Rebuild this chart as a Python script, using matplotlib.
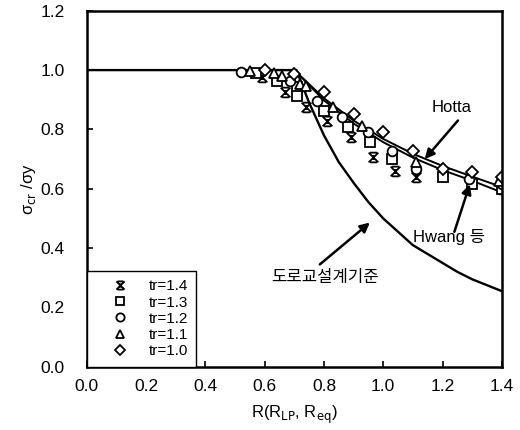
import numpy as np
import matplotlib
matplotlib.use('Agg')
import matplotlib.pyplot as plt
from matplotlib.path import Path

plt.rcParams['font.family'] = ['Liberation Sans', 'Noto Sans CJK KR', 'DejaVu Sans']

# design code curve (도로교설계기준)
x_code = [0.0, 0.707, 0.75, 0.8, 0.85, 0.9, 0.95, 1.0, 1.05, 1.1, 1.15, 1.2, 1.25, 1.3, 1.35, 1.4]
y_code = [1.0, 1.0, 0.89, 0.78, 0.69, 0.62, 0.555, 0.50, 0.455, 0.41, 0.38, 0.35, 0.32, 0.295, 0.275, 0.255]

# Hotta / Hwang curves
x_fit = [0.7, 0.8, 0.9, 1.0, 1.1, 1.2, 1.3, 1.4]
y_hotta = [1.0, 0.905, 0.83, 0.768, 0.718, 0.677, 0.641, 0.606]
y_hwang = [1.0, 0.898, 0.82, 0.757, 0.705, 0.663, 0.627, 0.588]

# test data
x_14 = [0.59, 0.67, 0.74, 0.81, 0.89, 0.965, 1.04, 1.11, 1.40]
y_14 = [0.976, 0.926, 0.875, 0.828, 0.774, 0.706, 0.659, 0.639, 0.60]
x_13 = [0.57, 0.64, 0.71, 0.71, 0.80, 0.88, 0.955, 1.03, 1.20, 1.30, 1.40]
y_13 = [0.99, 0.963, 0.943, 0.912, 0.861, 0.807, 0.757, 0.699, 0.639, 0.615, 0.60]
x_12 = [0.52, 0.685, 0.775, 0.86, 0.95, 1.03, 1.11, 1.29, 1.40]
y_12 = [0.993, 0.963, 0.895, 0.841, 0.79, 0.726, 0.666, 0.632, 0.615]
x_11 = [0.55, 0.63, 0.66, 0.72, 0.74, 0.83, 0.93, 1.11, 1.39]
y_11 = [0.997, 0.99, 0.98, 0.953, 0.946, 0.875, 0.811, 0.689, 0.625]
x_10 = [0.60, 0.70, 0.80, 0.90, 1.00, 1.10, 1.20, 1.30, 1.40]
y_10 = [1.0, 0.986, 0.926, 0.851, 0.79, 0.728, 0.666, 0.655, 0.638]

# X with caps top and bottom and a middle stroke
star = Path([(-1, -1), (1, 1), (-1, 1), (1, -1), (-0.7, 1), (0.7, 1), (-0.7, -1), (0.7, -1),
             (0, -0.5), (0, 0.5)],
            [Path.MOVETO, Path.LINETO] * 5)

fig = plt.figure(figsize=(5.2, 4.3), dpi=100)
ax = fig.add_axes([0.167, 0.147, 0.798, 0.828])

ax.plot(x_code, y_code, 'k-', lw=1.7)
ax.plot(x_fit, y_hotta, 'k-', lw=1.4)
ax.plot(x_fit, y_hwang, 'k-', lw=1.4)

mk = dict(ls='none', mfc='white', mec='k', mew=1.3, ms=7)
ax.plot(x_14, y_14, marker=star, label='tr=1.4', **mk)
ax.plot(x_13, y_13, marker='s', label='tr=1.3', **mk)
ax.plot(x_12, y_12, marker='o', label='tr=1.2', **mk)
ax.plot(x_11, y_11, marker='^', label='tr=1.1', **mk)
ax.plot(x_10, y_10, marker='D', label='tr=1.0', **dict(mk, ms=6))

arrow = dict(arrowstyle='-|>', color='k', lw=1.8, mutation_scale=14, shrinkA=0, shrinkB=0)
ax.text(1.23, 0.875, 'Hotta', ha='center', va='center', fontsize=12)
ax.annotate('', xy=(1.14, 0.70), xytext=(1.252, 0.83), arrowprops=arrow)
ax.text(1.10, 0.436, 'Hwang 등', ha='left', va='center', fontsize=12)
ax.annotate('', xy=(1.292, 0.615), xytext=(1.24, 0.455), arrowprops=arrow)
ax.text(0.803, 0.302, '도로교설계기준', ha='center', va='center', fontsize=12)
ax.annotate('', xy=(0.955, 0.486), xytext=(0.786, 0.345), arrowprops=arrow)

ax.set_xlim(0, 1.4)
ax.set_ylim(0, 1.2)
ax.set_xticks(np.arange(0, 1.41, 0.2))
ax.set_yticks(np.arange(0, 1.21, 0.2))
ax.set_xticklabels(['%.1f' % v for v in np.arange(0, 1.41, 0.2)])
ax.set_yticklabels(['%.1f' % v for v in np.arange(0, 1.21, 0.2)])
ax.tick_params(direction='in', length=4, width=1.2, labelsize=12.5)
ax.tick_params(axis='y', pad=16)
ax.tick_params(axis='x', pad=9)
for s in ax.spines.values():
    s.set_linewidth(1.8)

ax.set_xlabel('R(R$_{\\mathrm{LP}}$, R$_{\\mathrm{eq}}$)', fontsize=12, labelpad=7)
ax.set_ylabel('σ$_{\\mathrm{cr}}$ /σy', fontsize=12)
ax.yaxis.set_label_coords(-0.118, 0.5)

leg = ax.legend(loc='lower left', borderaxespad=0, fancybox=False, edgecolor='k',
                framealpha=1, fontsize=11, handletextpad=0.3, labelspacing=0.15,
                borderpad=0.55, handlelength=3.2, markerscale=0.85)
leg.get_frame().set_linewidth(1.0)

fig.savefig('out.png', dpi=100)
